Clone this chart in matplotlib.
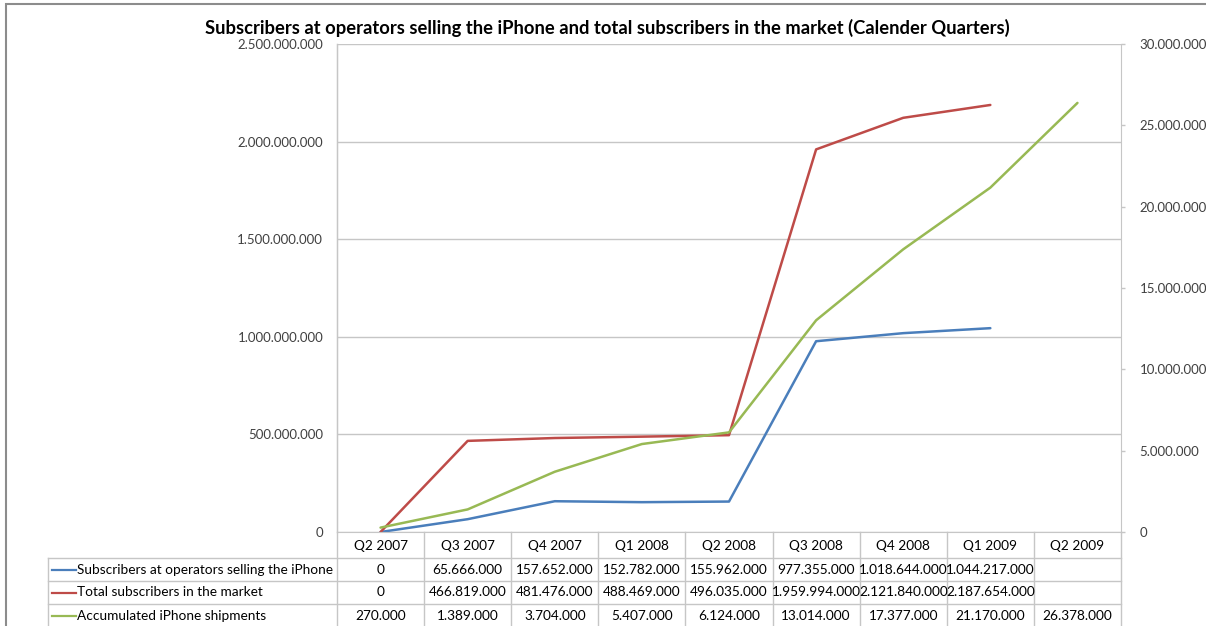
import numpy as np
import matplotlib
matplotlib.use("Agg")
import matplotlib.pyplot as plt
from matplotlib.lines import Line2D
from matplotlib.patches import Rectangle

# ---- data ----
quarters = ["Q2 2007", "Q3 2007", "Q4 2007", "Q1 2008", "Q2 2008",
            "Q3 2008", "Q4 2008", "Q1 2009", "Q2 2009"]
subs_iphone_ops = [0, 65666000, 157652000, 152782000, 155962000,
                   977355000, 1018644000, 1044217000, None]
subs_total = [0, 466819000, 481476000, 488469000, 496035000,
              1959994000, 2121840000, 2187654000, None]
iphone_shipments = [270000, 1389000, 3704000, 5407000, 6124000,
                    13014000, 17377000, 21170000, 26378000]

series_names = ["Subscribers at operators selling the iPhone",
                "Total subscribers in the market",
                "Accumulated iPhone shipments"]
colors = ["#4a7ebb", "#be4b48", "#98b954"]
title = "Subscribers at operators selling the iPhone and total subscribers in the market (Calender Quarters)"

left_ticks = np.arange(0, 2500000001, 500000000)
right_ticks = np.arange(0, 30000001, 5000000)

FONT = "Lato"
plt.rcParams["font.family"] = [FONT, "DejaVu Sans"]

W, H = 1206, 626
fig = plt.figure(figsize=(W / 100, H / 100), dpi=100)


def fx(px):
    return px / W


def fy(py):
    return 1 - py / H


def fmt(v):
    if v is None or (isinstance(v, float) and np.isnan(v)):
        return ""
    return f"{v:,.0f}".replace(",", ".")


def arr(vals):
    return np.array([np.nan if v is None else v for v in vals], dtype=float)


# plot area geometry (pixels)
PL, PR, PT, PB = 337, 1121, 44, 532
grid_c = "#c6c6c6"
text_c = "#404040"
TFS = 9.85

ax = fig.add_axes([fx(PL), fy(PB), fx(PR - PL), (PB - PT) / H])
ax2 = ax.twinx()
for a in (ax, ax2):
    a.set_xlim(-0.5, len(quarters) - 0.5)
    a.patch.set_visible(False)
    for s in a.spines.values():
        s.set_visible(False)

ax.set_ylim(0, 2500000000)
ax2.set_ylim(0, 30000000)

# gridlines on left axis
ax.set_yticks(left_ticks)
ax.yaxis.grid(True, color=grid_c, linewidth=1)
ax.set_axisbelow(True)
ax.tick_params(axis="y", length=0, pad=10, labelsize=9.5, labelcolor=text_c)
ax.set_yticklabels([fmt(t) for t in left_ticks], fontfamily=FONT)
ax.set_xticks([])

ax2.set_yticks(right_ticks)
ax2.tick_params(axis="y", length=3, width=1, color=grid_c, pad=10.5,
                labelsize=9.5, labelcolor=text_c)
ax2.set_yticklabels([fmt(t) for t in right_ticks], fontfamily=FONT)
for side in ("right", "left", "bottom"):
    ax2.spines[side].set_visible(True)
    ax2.spines[side].set_color(grid_c)
ax2.set_xticks([])

x = np.arange(len(quarters))
lw = 1.8
ax.plot(x, arr(subs_iphone_ops), color=colors[0], lw=lw, solid_capstyle="round", zorder=3)
ax.plot(x, arr(subs_total), color=colors[1], lw=lw, solid_capstyle="round", zorder=3)
ax2.plot(x, arr(iphone_shipments), color=colors[2], lw=lw, solid_capstyle="round", zorder=3)

# title
fig.text(fx(607), fy(28), title, ha="center", va="center",
         fontsize=13.2, fontweight="bold", color="#000000", fontfamily=FONT)

# ---- data table under the plot ----
col_w = (PR - PL) / len(quarters)
row_tops = [PB, 558, 581, 604, 627]
label_left = 48


def hline(x0, x1, y):
    fig.add_artist(Line2D([fx(x0), fx(x1)], [fy(y), fy(y)], color=grid_c, lw=1))


def vline(xp, y0, y1):
    fig.add_artist(Line2D([fx(xp), fx(xp)], [fy(y0), fy(y1)], color=grid_c, lw=1))


# column separators
for i in range(len(quarters) + 1):
    vline(PL + i * col_w, PB, H)
vline(label_left, row_tops[1], H)
vline(PL, PT, PB)
for y in row_tops[1:4]:
    hline(label_left, PR, y)

# header
for i, q in enumerate(quarters):
    fig.text(fx(PL + (i + 0.5) * col_w), fy((row_tops[0] + row_tops[1]) / 2 + 1), q,
             ha="center", va="center", fontsize=TFS, color="#000000", fontfamily=FONT)

rows = [subs_iphone_ops, subs_total, iphone_shipments]
for r, (vals, name, c) in enumerate(zip(rows, series_names, colors)):
    yc = (row_tops[r + 1] + row_tops[r + 2]) / 2
    fig.add_artist(Line2D([fx(52), fx(76)], [fy(yc), fy(yc)], color=c, lw=1.6))
    fig.text(fx(77), fy(yc), name, ha="left", va="center", fontsize=TFS,
             color="#000000", fontfamily=FONT)
    for i, v in enumerate(vals):
        fig.text(fx(PL + (i + 0.5) * col_w), fy(yc), fmt(v), ha="center", va="center",
                 fontsize=TFS, color="#000000", fontfamily=FONT)

# outer chart frame
fig.add_artist(Rectangle((fx(6), fy(H + 10)), fx(W + 10), (H + 10 - 4) / H,
                         transform=fig.transFigure, fill=False,
                         edgecolor="#8c8c8c", lw=1.5))

fig.savefig("out.png", dpi=100, facecolor="white")
